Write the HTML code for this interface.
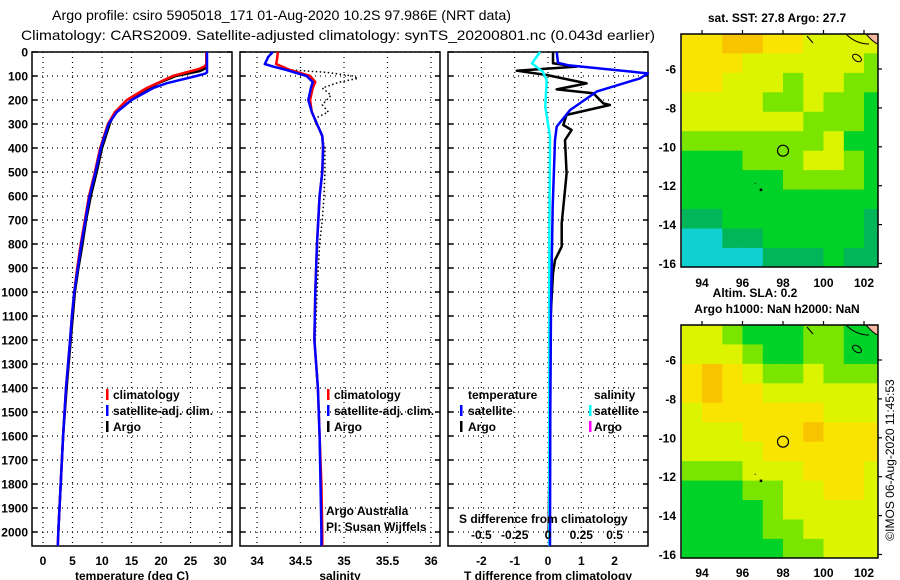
<!DOCTYPE html>
<html><head><meta charset="utf-8">
<style>
html,body{margin:0;padding:0;background:#fff;}
svg{display:block;font-family:"Liberation Sans",sans-serif;}
.b{font-weight:bold;font-size:12px;}
</style></head>
<body>
<svg id="fig" width="900" height="580" viewBox="0 0 900 580">
<text x="52" y="20" font-size="14" textLength="459" lengthAdjust="spacingAndGlyphs">Argo profile: csiro 5905018_171 01-Aug-2020 10.2S 97.986E (NRT data)</text>
<text x="21" y="40" font-size="14" textLength="634" lengthAdjust="spacingAndGlyphs">Climatology: CARS2009. Satellite-adjusted climatology: synTS_20200801.nc (0.043d earlier)</text>
<g id="panels"></g>
<g id="maps"></g>
<text transform="translate(894,460) rotate(-90)" text-anchor="middle" font-size="12">©IMOS 06-Aug-2020 11:45:53</text>
</svg>
<script>
// ---------- profile data ----------
const tClimDepth = [0,50,60,70,100,150,200,250,300,400,500,600,700,800,900,1000,1100,1200,1400,1600,1800,2000,2058];
const tClimVal   = [27.7,27.7,27.4,26.5,22,17.6,14.2,12.2,11.0,9.7,8.8,7.8,7.1,6.4,5.8,5.3,4.9,4.6,3.9,3.4,3.0,2.6,2.5];
const tSatDepth  = [0,85,90,100,130,150,200,250,300,400,500,600,700,800,900,1000,1100,1200,1400,1600,1800,2000,2058];
const tSatVal    = [27.8,27.8,27.5,26,21,18.7,15,12.5,11.1,9.8,8.9,7.9,7.2,6.5,5.9,5.3,4.9,4.6,3.9,3.4,3.0,2.6,2.5];
const tArgoDepth = [0,65,75,80,100,130,150,200,230,260,300,400,500,600,700,800,900,1000,1200,1400,1600,1800,2000];
const tArgoVal   = [27.7,27.7,27.0,26.5,22.5,19.5,18,15,13.5,12,11.3,10,9.1,8.1,7.3,6.7,6.0,5.4,4.7,4.0,3.4,3.0,2.6];

const sClimDepth = [0,30,50,75,100,125,150,200,250,300,350,400,500,600,800,1000,1200,1400,1600,1800,2000,2058];
const sClimVal   = [34.24,34.23,34.22,34.38,34.61,34.67,34.64,34.61,34.63,34.69,34.75,34.76,34.75,34.72,34.69,34.67,34.66,34.70,34.72,34.74,34.75,34.75];
const sSatDepth  = [0,20,50,60,75,100,125,150,200,250,300,350,400,500,600,800,1000,1200,1400,1600,1800,2000,2058];
const sSatVal    = [34.18,34.13,34.09,34.18,34.34,34.57,34.64,34.62,34.59,34.63,34.69,34.75,34.76,34.75,34.72,34.69,34.67,34.66,34.70,34.72,34.73,34.74,34.74];
const sArgoDepth = [75,85,100,110,125,150,180,220,250,280,320,400,500,600,700,800,1000,1200];
const sArgoVal   = [34.40,34.80,35.10,35.16,34.95,34.75,34.85,34.75,34.82,34.65,34.72,34.78,34.78,34.77,34.75,34.72,34.69,34.67];

const dSatDepth  = [0,45,55,89,110,165,242,311,367,644,1061,1500,2058];
const dSatVal    = [0.26,0.3,0.6,3.0,2.76,1.46,0.66,0.26,0.21,0.14,0.09,0.07,0.06];
const dArgoDepth = [0,47,61,78,96,131,156,172,214,221,262,304,325,367,506,575,714,811,867,922,1100,1500,2000];
const dArgoVal   = [0.15,0.15,0.86,-0.94,-0.04,1.16,0.26,1.36,1.66,1.86,0.56,0.46,0.71,0.51,0.56,0.51,0.41,0.41,0.21,0.15,0.08,0.06,0.02];
const dSalDepth  = [0,47,82,117,228,353,800,1500,2058];
const dSalVal    = [-0.06,-0.12,-0.04,-0.01,-0.02,0.015,0.01,0.01,0.01];

const tTicks = [0,5,10,15,20,25,30];
const sTicks = [34,34.5,35,35.5,36];
const dTicks = [-2,-1,0,1,2];
const sdTicks = [-0.5,-0.25,0,0.25,0.5];
const depthTicks = [0,100,200,300,400,500,600,700,800,900,1000,1100,1200,1300,1400,1500,1600,1700,1800,1900,2000];

// ---------- map data ----------
const sstGrid = [
 [5,5,6,6,5,5,4,4,4,4],
 [5,5,5,4,4,4,4,4,4,3],
 [5,5,4,4,4,3,4,4,3,3],
 [4,4,4,4,3,3,4,3,3,2],
 [4,4,4,4,4,4,3,3,3,2],
 [3,3,3,3,3,3,3,4,2,2],
 [2,2,2,3,3,3,4,4,3,2],
 [2,2,2,2,2,3,3,3,3,2],
 [2,2,2,2,2,2,2,2,2,2],
 [1,1,2,2,2,2,2,2,2,1],
 [0,0,1,1,2,2,2,2,2,1],
 [0,0,0,0,1,1,1,2,1,1]];
const slaGrid = [
 [4,4,3,2,2,2,3,3,2,2],
 [4,4,4,3,2,2,3,3,2,2],
 [5,6,5,4,3,3,4,3,3,3],
 [5,6,5,5,4,4,4,4,4,4],
 [4,5,5,5,5,5,5,4,4,4],
 [4,4,4,5,5,5,6,5,5,5],
 [4,4,4,4,5,5,5,5,5,5],
 [3,3,3,4,4,4,5,5,5,4],
 [2,2,2,3,3,4,4,5,5,4],
 [2,2,2,2,3,4,4,4,4,4],
 [2,2,2,2,3,3,4,4,4,4],
 [2,2,2,2,2,3,3,4,4,4]];
const palette = ['#10d0d0','#00b658','#00d228','#7ae600','#dcf400','#f8e400','#f8c400'];
const lonTicks = [94,96,98,100,102];
const latTicks = [-6,-8,-10,-12,-14,-16];
const argoLon = 98.0, argoLat = -10.2;

// ---------- helpers ----------
const NS='http://www.w3.org/2000/svg';
function mk(tag, attrs, parent){const e=document.createElementNS(NS,tag);for(const k in attrs)e.setAttribute(k,attrs[k]);parent.appendChild(e);return e;}
const panels=document.getElementById('panels');
const Y0=52, YB=546;
const yD = d => Y0 + d*0.24;

function panel(name,x0,x1,xs,ticks,tickFmt,xlabel){
  const g=mk('g',{},panels);
  
  
  ticks.forEach(t=>{
    const l=mk('line',{x1:xs(t),x2:xs(t),y1:Y0,y2:YB,stroke:'#000','stroke-width':1.2,'stroke-dasharray':'1 4'},g);
    
    
    const tx=mk('text',{x:xs(t),y:565,'text-anchor':'middle','class':'b'},g);
    tx.textContent=tickFmt(t);
    
    
  });
  depthTicks.forEach(d=>{
    const l=mk('line',{x1:x0,x2:x1,y1:yD(d),y2:yD(d),stroke:'#000','stroke-width':1.2,'stroke-dasharray':'1 4'},g);
    
    
    mk('line',{x1:x0,x2:x0+5,y1:yD(d),y2:yD(d),stroke:'#000','stroke-width':1.5},g);
    mk('line',{x1:x1-5,x2:x1,y1:yD(d),y2:yD(d),stroke:'#000','stroke-width':1.5},g);
  });
  const r=mk('rect',{x:x0,y:Y0,width:x1-x0,height:YB-Y0,fill:'none',stroke:'#000','stroke-width':1.5},g);
  
  
  const lab=mk('text',{x:(x0+x1)/2,y:580,'text-anchor':'middle','class':'b'},g);
  lab.textContent=xlabel;
  
  
  return g;
}
function line(g,xs,depths,vals,color,w,name,dash){
  const pts=depths.map((d,i)=>xs(vals[i]).toFixed(1)+','+yD(d).toFixed(1)).join(' ');
  const p=mk('polyline',{points:pts,fill:'none',stroke:color,'stroke-width':w,'stroke-linejoin':'round'},g);
  if(dash)p.setAttribute('stroke-dasharray',dash);
  
  
}
function txt(g,x,y,s,name,cls,anchor){
  const t=mk('text',{x:x,y:y,'class':cls||'b','text-anchor':anchor||'start'},g);
  t.textContent=s;
  
  
  return t;
}
function legBar(g,x,y,color,name){
  const r=mk('rect',{x:x,y:y-10,width:2.5,height:11,fill:color},g);
  
  
}

const dl=mk('g',{},panels);


depthTicks.forEach(d=>{
  const t=mk('text',{x:28,y:yD(d)+4.5,'text-anchor':'end','class':'b'},dl);
  t.textContent=d;
  
  
});

const xT = v => 43 + v*5.9;
const p1=panel('temperature-panel',32,232,xT,tTicks,String,'temperature (deg C)');
line(p1,xT,tArgoDepth,tArgoVal,'#000',2.5,'argo-temperature-line');
line(p1,xT,tClimDepth,tClimVal,'#f00',2.5,'climatology-temperature-line');
line(p1,xT,tSatDepth,tSatVal,'#00f',2.5,'satellite-temperature-line');
legBar(p1,106,399,'#f00','legend-climatology-swatch'); txt(p1,113,399,'climatology','legend-climatology');
legBar(p1,106,415,'#00f','legend-satellite-swatch'); txt(p1,113,415,'satellite-adj. clim.','legend-satellite');
legBar(p1,106,431,'#000','legend-argo-swatch'); txt(p1,113,431,'Argo','legend-argo');

const xS = v => 257 + (v-34)*87;
const p2=panel('salinity-panel',240,440,xS,sTicks,String,'salinity');
line(p2,xS,sArgoDepth,sArgoVal,'#000',1.5,'argo-salinity-line','1.5 2.5');
line(p2,xS,sClimDepth,sClimVal,'#f00',2.5,'climatology-salinity-line');
line(p2,xS,sSatDepth,sSatVal,'#00f',2.5,'satellite-salinity-line');
legBar(p2,327,399,'#f00','legend-climatology-swatch'); txt(p2,334,399,'climatology','legend-climatology');
legBar(p2,327,415,'#00f','legend-satellite-swatch'); txt(p2,334,415,'satellite-adj. clim.','legend-satellite');
legBar(p2,327,431,'#000','legend-argo-swatch'); txt(p2,334,431,'Argo','legend-argo');
const c1=txt(p2,326,515,'Argo Australia','credit-argo-australia','');
c1.setAttribute('font-size','12');
const c2=txt(p2,326,531,'PI: Susan Wijffels','credit-pi','');
c2.setAttribute('font-size','12');

const xD = v => 548 + v*33.3;
const xSD = v => 548 + v*4*33.3;
const p3=panel('difference-panel',448,648,xD,dTicks,String,'T difference from climatology');
line(p3,xD,dArgoDepth,dArgoVal,'#000',2.5,'argo-t-difference-line');
line(p3,xSD,dSalDepth,dSalVal,'#00ffff',2.5,'satellite-s-difference-line');
line(p3,xD,dSatDepth,dSatVal,'#00f',2.5,'satellite-t-difference-line');
txt(p3,468,399,'temperature','legend-temperature-header');
txt(p3,594,399,'salinity','legend-salinity-header');
legBar(p3,460,415,'#00f','legend-t-satellite-swatch'); txt(p3,468,415,'satellite','legend-t-satellite');
legBar(p3,460,431,'#000','legend-t-argo-swatch'); txt(p3,468,431,'Argo','legend-t-argo');
legBar(p3,589,415,'#00ffff','legend-s-satellite-swatch'); txt(p3,594,415,'satellite','legend-s-satellite');
legBar(p3,589,431,'#ff00ff','legend-s-argo-swatch'); txt(p3,594,431,'Argo','legend-s-argo');
txt(p3,459,523,'S difference from climatology','s-difference-axis-title');
sdTicks.forEach(t=>txt(p3,xSD(t),539,String(t),'s-difference-tick-label','b','middle'));

const maps=document.getElementById('maps');
function drawMap(name,grid,top,title,titleY,lonLabY){
  const L=681,R=878,B=top+233;
  const lonX = lon => 702 + (lon-94)*20.25;
  const latY = lat => top+35 + (-6-lat)*19.45;
  const g=mk('g',{},maps);
  
  
  const cp='clip-'+name;
  const cl=mk('clipPath',{id:cp},g); mk('rect',{x:L,y:top,width:R-L,height:B-top},cl);
  const cg=mk('g',{'clip-path':'url(#'+cp+')'},g);
  grid.forEach((row,i)=>row.forEach((v,j)=>{
    const x=lonX(93+j), y=latY(-4.2-i);
    const c=mk('rect',{x:x.toFixed(1),y:y.toFixed(1),width:20.8,height:20,fill:palette[v]},cg);
    
    
  }));
  mk('path',{d:`M${R-12},${top} Q${R-4},${top+9} ${R},${top+10} L${R},${top} Z`,fill:'#f5b8a0',stroke:'#000','stroke-width':1},cg);
  mk('path',{d:`M${R-32},${top} Q${R-22},${top+10} ${R-9},${top+10}`,fill:'none',stroke:'#000','stroke-width':1},cg);
  mk('path',{d:`M${R-71},${top+2} L${R-65},${top+9}`,fill:'none',stroke:'#000','stroke-width':1},cg);
  mk('ellipse',{cx:R-21,cy:top+24,rx:5,ry:3,fill:'none',stroke:'#000','stroke-width':1,transform:`rotate(35 ${R-21} ${top+24})`},cg);
  const fr=mk('rect',{x:L,y:top,width:R-L,height:B-top,fill:'none',stroke:'#000','stroke-width':1.5},g);
  
  
  lonTicks.forEach(l=>{
    mk('line',{x1:lonX(l),x2:lonX(l),y1:top,y2:top-4,stroke:'#000','stroke-width':1.2},g);
    txt(g,lonX(l),lonLabY,String(l),'longitude-tick-label','b','middle');
  });
  latTicks.forEach(l=>{
    mk('line',{x1:R,x2:R+4,y1:latY(l),y2:latY(l),stroke:'#000','stroke-width':1.2},g);
    txt(g,676,latY(l)+4.5,String(l),'latitude-tick-label','b','end');
  });
  const ci=mk('circle',{cx:lonX(argoLon),cy:latY(argoLat),r:5.5,fill:'none',stroke:'#000','stroke-width':1.2},g);
  
  
  mk('rect',{x:lonX(96.9)-1,y:latY(-12.2)-1,width:2.5,height:2.5,fill:'#000'},g);
  mk('rect',{x:lonX(96.6),y:latY(-11.85),width:1,height:1,fill:'#000'},g);
  title.forEach((t,i)=>txt(g,t[1],titleY[i],t[0],'map-title','b','middle'));
}
drawMap('sst-map',sstGrid,34,[['sat. SST: 27.8 Argo: 27.7',777]],[22],287);
drawMap('sla-map',slaGrid,325,[['Altim. SLA: 0.2',755],['Argo h1000: NaN h2000: NaN',777]],[297,313],577);
</script>
</body></html>
